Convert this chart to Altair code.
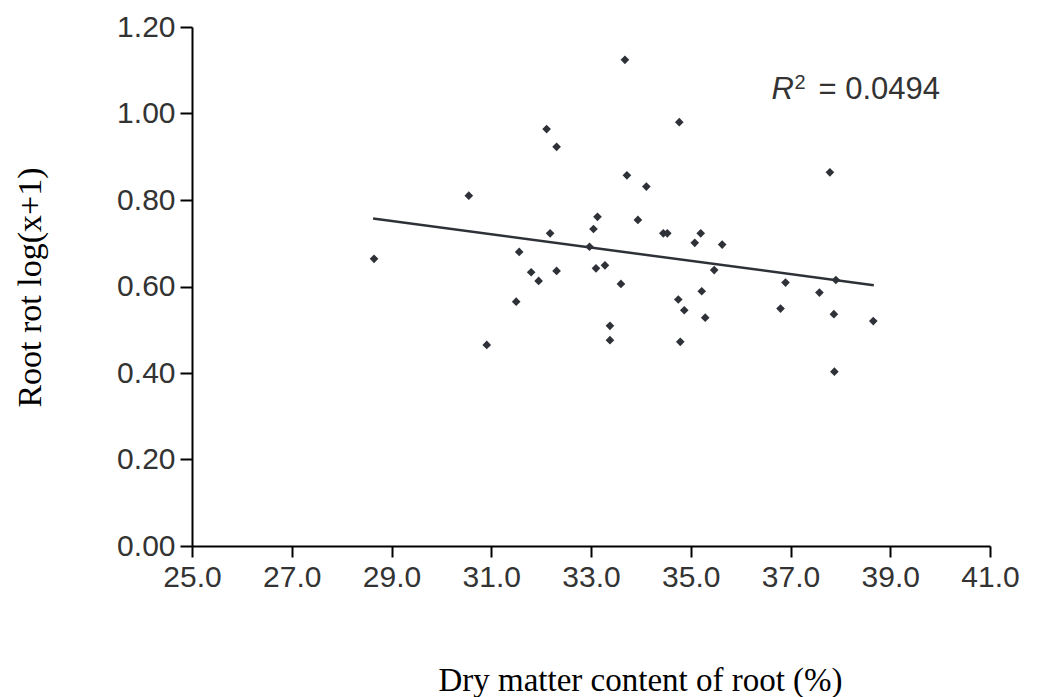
import altair as alt
import pandas as pd

# scatter data
dry_matter = [28.65, 30.55, 30.91, 31.50, 31.56, 31.80, 31.95, 32.11, 32.18, 32.31,
              32.31, 32.97, 33.05, 33.13, 33.10, 33.28, 33.38, 33.38, 33.60, 33.68,
              33.72, 33.94, 34.11, 34.45, 34.53, 34.75, 34.77, 34.79, 34.87, 35.08,
              35.20, 35.22, 35.29, 35.47, 35.63, 36.80, 36.90, 37.58, 37.79, 37.87,
              37.91, 37.88, 38.66]
root_rot = [0.664, 0.810, 0.465, 0.565, 0.680, 0.633, 0.613, 0.964, 0.723, 0.923,
            0.636, 0.692, 0.733, 0.761, 0.642, 0.649, 0.509, 0.476, 0.606, 1.124,
            0.857, 0.754, 0.831, 0.723, 0.723, 0.570, 0.980, 0.472, 0.545, 0.701,
            0.723, 0.589, 0.528, 0.638, 0.697, 0.549, 0.609, 0.586, 0.864, 0.536,
            0.615, 0.403, 0.520]

# fitted trend line end points
trend_x = [28.63, 38.67]
trend_y = [0.757, 0.603]

# annotation anchor
ann_x = [36.62]
ann_y = [1.0335]

x_ticks = [25, 27, 29, 31, 33, 35, 37, 39, 41]
y_ticks = [0.0, 0.2, 0.4, 0.6, 0.8, 1.0, 1.2]

pts = pd.DataFrame({"x": dry_matter, "y": root_rot})
trend = pd.DataFrame({"x": trend_x, "y": trend_y})
ann = pd.DataFrame({"x": ann_x, "y": ann_y})

INK = "#2e3238"
TXT = "#333333"

xs = alt.Scale(domain=[25, 41], nice=False, zero=False)
ys = alt.Scale(domain=[0, 1.2], nice=False)

x_axis = alt.Axis(
    values=x_ticks, format=".1f", grid=False, labelFlush=False, labelOverlap=False,
    title="Dry matter content of root (%)",
    titleFont="Liberation Serif", titleFontSize=33, titleFontWeight="normal",
    titleColor="black", titleX=448, titleY=134, titleAlign="center",
    titleBaseline="middle",
    labelFont="Liberation Sans", labelFontSize=30, labelColor=TXT,
    labelPadding=5, tickSize=11, tickWidth=2, tickColor="black",
    domainColor="black", domainWidth=2,
)
y_axis = alt.Axis(
    values=y_ticks, format=".2f", grid=False, labelFlush=False, labelOverlap=False,
    title="Root rot log(x+1)",
    titleFont="Liberation Serif", titleFontSize=34, titleFontWeight="normal",
    titleColor="black", titleX=-162, titleY=260, titleAlign="center",
    titleBaseline="middle", titleAngle=270,
    labelFont="Liberation Sans", labelFontSize=30, labelColor=TXT,
    labelPadding=5, tickSize=12, tickWidth=2, tickColor="black",
    domainColor="black", domainWidth=2,
)

points = alt.Chart(pts).mark_point(
    shape="diamond", filled=True, size=75, color=INK, opacity=1
).encode(
    x=alt.X("x:Q", scale=xs, axis=x_axis),
    y=alt.Y("y:Q", scale=ys, axis=y_axis),
)

line = alt.Chart(trend).mark_line(color=INK, strokeWidth=2.5).encode(
    x=alt.X("x:Q", scale=xs),
    y=alt.Y("y:Q", scale=ys),
)

base_ann = alt.Chart(ann).encode(
    x=alt.X("x:Q", scale=xs),
    y=alt.Y("y:Q", scale=ys),
)
r_txt = base_ann.mark_text(
    text="R", font="Liberation Sans", fontSize=31, fontStyle="italic",
    align="left", baseline="alphabetic", color=TXT
)
sup_txt = base_ann.mark_text(
    text="2", font="Liberation Sans", fontSize=20, align="left",
    baseline="alphabetic", dx=23, dy=-10, color=TXT
)
eq_txt = base_ann.mark_text(
    text="= 0.0494", font="Liberation Sans", fontSize=31, align="left",
    baseline="alphabetic", dx=47, color=TXT
)

chart = alt.layer(line, points, r_txt, sup_txt, eq_txt).properties(
    width=798, height=519,
    background="white",
    autosize=alt.AutoSizeParams(type="none"),
    padding={"left": 184, "top": 19, "right": 39, "bottom": 170},
).configure_view(strokeWidth=0, stroke=None)

chart.save("out.html", embed_options={"renderer": "svg", "actions": False})
